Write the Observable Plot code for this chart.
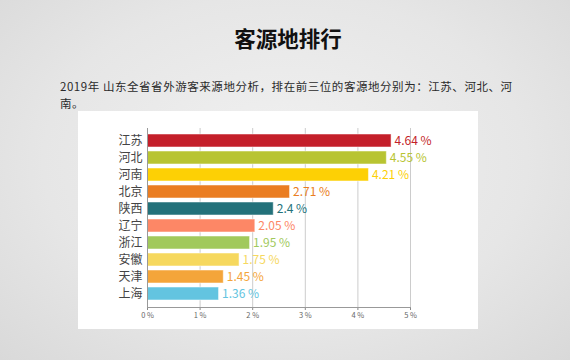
<!DOCTYPE html>
<html><head><meta charset="utf-8">
<script src="https://cdn.jsdelivr.net/npm/d3@7"></script>
<script src="https://cdn.jsdelivr.net/npm/@observablehq/plot@0.6"></script>
<style>
html,body{margin:0;padding:0;}
body{width:570px;height:360px;overflow:hidden;position:relative;
 background:radial-gradient(ellipse at 50% 45%, #f1f1f1 0%, #e6e6e6 60%, #d9d9d9 100%);
 font-family:"Noto Sans CJK SC","Noto Sans",sans-serif;}
#title{position:absolute;left:3px;width:570px;top:22px;text-align:center;font-size:21.5px;font-weight:bold;color:#111;line-height:31px;}
#sub{position:absolute;left:60px;top:78px;font-size:11.5px;letter-spacing:0.55px;color:#2a2a2a;line-height:16.8px;}
#panel{position:absolute;left:78px;top:111px;width:400px;height:218px;background:#fff;}
</style></head><body>
<div id="title">客源地排行</div>
<div id="sub">2019年 山东全省省外游客来源地分析，排在前三位的客源地分别为：江苏、河北、河<br>南。</div>
<div id="panel"></div>
<script>
const provinces = ["江苏","河北","河南","北京","陕西","辽宁","浙江","安徽","天津","上海"];
const shares = [4.64,4.55,4.21,2.71,2.4,2.05,1.95,1.75,1.45,1.36];
const colors = ["#c41f2a","#b8c432","#fdd005","#ea7d22","#23717a","#fd8766","#a1c95c","#f6d85e","#f4a53a","#63c4e0"];
const xTicks = [0,1,2,3,4,5];
const data = provinces.map((p,i)=>({p, v:shares[i], c:colors[i]}));
const chart = Plot.plot({
  width:400, height:218,
  marginLeft:69, marginRight:68, marginTop:17, marginBottom:22,
  style:{fontFamily:'"Noto Sans CJK SC","Noto Sans",sans-serif', background:"transparent"},
  x:{domain:[0,5], ticks:xTicks, tickFormat:d=>d+" %"},
  y:{domain:provinces, paddingInner:0.22, paddingOuter:0.11, label:null},
  marks:[
    Plot.gridX(xTicks.slice(1), {stroke:"#ccc", strokeOpacity:1}),
    Plot.barX(data, {y:"p", x:"v", fill:"c", stroke:"#fff", strokeOpacity:0.5, strokeWidth:1}),
    Plot.text(data, {y:"p", x:"v", text:d=>d.v+" %", fill:"c", textAnchor:"start", dx:3, fontSize:12}),
    Plot.axisX(xTicks, {tickFormat:d=>d+" %", fontSize:7.5, tickSize:3, tickPadding:2, stroke:"#888", fill:"#666", label:null}),
    Plot.axisY({tickSize:0, tickPadding:5, fontSize:12, fill:"#444", label:null}),
    Plot.frame({anchor:"bottom", stroke:"#999"}),
    Plot.frame({anchor:"left", stroke:"#999"})
  ]
});
document.getElementById("panel").appendChild(chart);
</script>
</body></html>
